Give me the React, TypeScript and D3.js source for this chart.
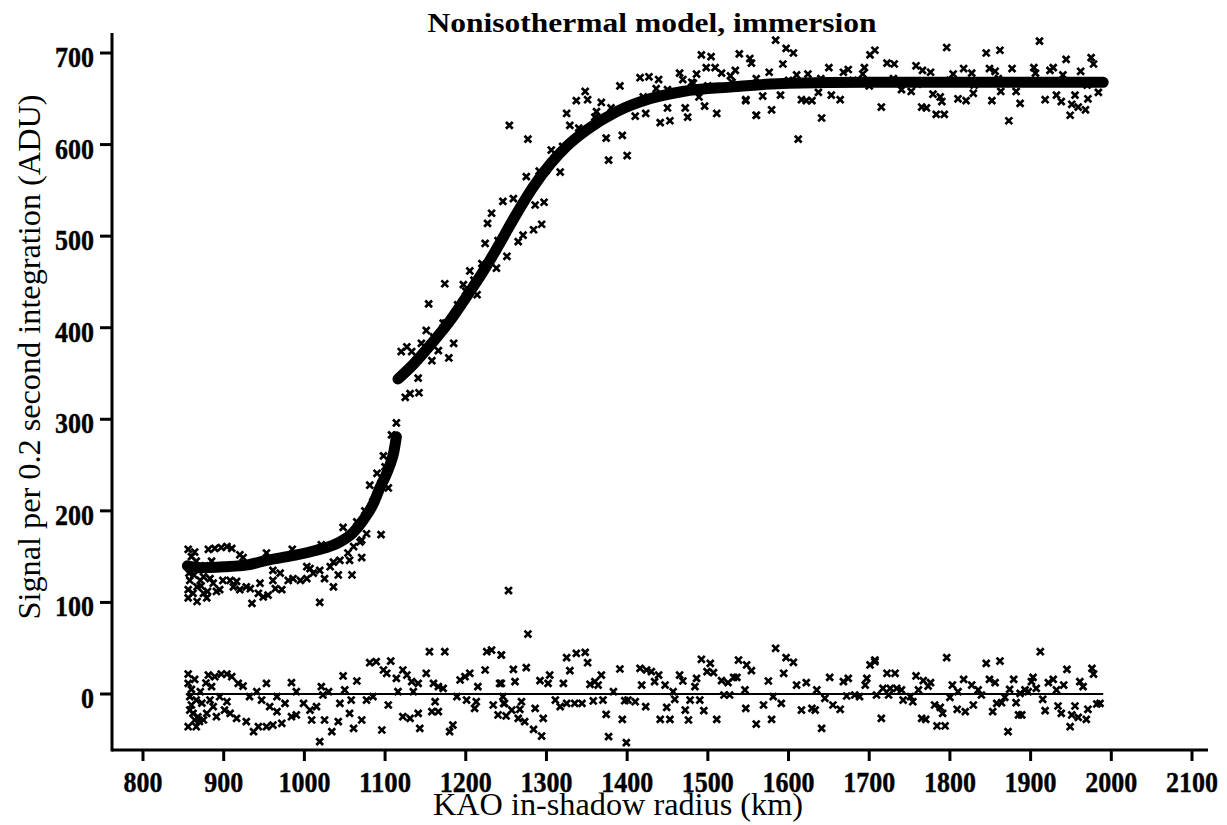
import React from "react";
import * as d3 from "d3";

const W = 1227;
const H = 825;

const title = "Nonisothermal model, immersion";
const xTitle = "KAO in-shadow radius (km)";
const yTitle = "Signal per 0.2 second integration (ADU)";
const xTicks = [800, 900, 1000, 1100, 1200, 1300, 1400, 1500, 1600, 1700, 1800, 1900, 2000, 2100];
const yTicks = [0, 100, 200, 300, 400, 500, 600, 700];

// model curve (two branches)
const modelLower: [number, number][] = [
  [855, 140], [870, 138], [900, 139], [930, 141], [953, 146], [985, 151], [1015, 157], [1044, 166],
  [1060, 176], [1073, 190], [1085, 207], [1094, 226], [1100, 237], [1106, 250], [1111, 265], [1114, 281],
];
const modelUpper: [number, number][] = [
  [1116, 344], [1135, 360], [1156, 381], [1180, 407], [1201, 434], [1222, 462], [1242, 492], [1262, 523],
  [1283, 553], [1305, 579], [1325, 598], [1350, 616], [1387, 636], [1428, 650], [1469, 658], [1531, 663],
  [1600, 667], [1700, 668], [1800, 668], [1900, 668], [1990, 668],
];

// observed signal
const signalLow: [number, number][] = [
  [856, 158], [864, 155], [881, 158], [889, 159], [897, 160], [904, 161], [910, 159], [920, 152], [924, 149],
  [953, 154], [985, 158], [1021, 163], [1048, 182], [1065, 188], [1081, 228], [1095, 174], [1069, 166],
  [1071, 149], [1056, 146], [1044, 146], [1036, 144], [1059, 130], [1042, 130], [1036, 117], [1025, 126],
  [1019, 100], [1011, 132], [1007, 137], [1003, 126], [995, 124], [986, 126], [980, 124], [972, 114],
  [964, 115], [955, 108], [949, 106], [943, 110], [935, 99], [933, 115], [928, 117], [920, 114], [912, 117],
  [908, 124], [895, 114], [891, 112], [887, 121], [883, 126], [875, 128], [871, 124], [867, 117], [862, 110],
  [856, 105], [867, 101], [858, 124], [856, 114], [875, 110], [879, 105], [961, 124], [970, 132], [1003, 139],
  [1019, 135], [1032, 139], [1054, 154], [1061, 161], [1071, 168], [1077, 175], [961, 135], [945, 121],
  [916, 123], [899, 124], [858, 140], [860, 150], [863, 130], [866, 145], [869, 135], [872, 118], [877, 140],
  [880, 112], [885, 145], [857, 132],
];
const signalMid: [number, number][] = [
  [1114, 296], [1108, 283], [1090, 241], [1100, 248], [1104, 225], [1075, 200], [1085, 210], [1095, 230],
  [1098, 260], [1141, 345], [1131, 328], [1125, 324], [1142, 329], [1120, 374], [1127, 379], [1133, 374],
  [1158, 364], [1166, 375], [1179, 367], [1185, 383], [1151, 397], [1154, 426], [1145, 383], [1172, 405],
  [1253, 113],
];
const signalRise: [number, number][] = [
  [1174, 448], [1197, 447], [1205, 462], [1214, 436], [1224, 492], [1227, 514], [1232, 525], [1246, 538],
  [1259, 541], [1251, 478], [1238, 465], [1265, 494], [1271, 501], [1284, 507], [1294, 513], [1286, 534],
  [1297, 537], [1275, 565], [1291, 571], [1306, 594], [1317, 570], [1254, 621], [1277, 606], [1325, 634],
  [1329, 621], [1337, 648], [1348, 658], [1351, 649], [1368, 646], [1362, 636], [1374, 607], [1377, 583],
  [1394, 610], [1400, 588], [1391, 664], [1410, 631], [1423, 634], [1416, 673], [1427, 674], [1439, 671],
  [1436, 661], [1441, 624], [1453, 626], [1450, 640], [1465, 678], [1469, 671], [1472, 640], [1475, 630],
  [1486, 677], [1482, 667], [1489, 652], [1496, 642], [1492, 698], [1504, 696], [1498, 684], [1509, 684],
  [1517, 678], [1528, 675], [1534, 681], [1539, 699], [1552, 694], [1554, 689], [1511, 634], [1547, 648],
  [1560, 632], [1160, 390], [1175, 405], [1190, 425], [1200, 440], [1210, 452], [1220, 470], [1240, 495],
  [1260, 520], [1280, 548], [1300, 572], [1310, 585], [1320, 598], [1340, 618], [1360, 630], [1380, 640],
];
const signalPlateau: [number, number][] = [
  [1547, 649], [1560, 632], [1568, 653], [1579, 638], [1590, 654], [1576, 679], [1584, 714], [1597, 705],
  [1606, 700], [1593, 688], [1612, 606], [1616, 649], [1622, 648], [1629, 648], [1637, 657], [1610, 676],
  [1624, 677], [1641, 629], [1650, 684], [1653, 654], [1664, 649], [1668, 679], [1674, 682], [1701, 698],
  [1707, 703], [1694, 684], [1692, 677], [1715, 641], [1722, 689], [1731, 688], [1740, 660], [1752, 658],
  [1758, 686], [1766, 681], [1776, 679], [1765, 641], [1771, 640], [1779, 655], [1788, 652], [1790, 647],
  [1783, 633], [1793, 633], [1796, 706], [1804, 677], [1810, 650], [1817, 683], [1820, 648], [1827, 678],
  [1829, 656], [1845, 700], [1849, 683], [1856, 680], [1852, 648], [1862, 703], [1863, 658], [1873, 626],
  [1882, 658], [1887, 645], [1877, 683], [1904, 684], [1906, 678], [1911, 713], [1918, 649], [1924, 681],
  [1928, 684], [1932, 654], [1938, 647], [1944, 693], [1940, 676], [1949, 632], [1951, 644], [1955, 654],
  [1959, 641], [1962, 680], [1968, 638], [1971, 650], [1975, 695], [1978, 688], [1984, 657],
  [1420, 652], [1450, 660], [1480, 668], [1500, 664], [1530, 668], [1560, 672], [1580, 665], [1600, 670],
  [1640, 672], [1680, 670], [1700, 664], [1730, 672], [1760, 666], [1800, 670], [1830, 665], [1860, 672],
  [1900, 668], [1940, 670], [1970, 665],
];

// residuals (signal minus model)
const residA: [number, number][] = [
  [856, 21.8], [864, 16], [856, 11.6], [881, 20.7], [889, 18.9], [897, 21.8], [904, 21.8], [910, 18.9],
  [918, 11.6], [924, 8.7], [953, 11.6], [984, 12.4], [1021, 8], [1048, 19.7], [1065, 14.2], [1081, 34.2],
  [1089, 35.3], [1098, 26.2], [1107, 36], [1102, 22.6], [1114, 17.1], [1122, 26.2], [1127, 20.7],
  [1133, 13.5], [1141, 11.6], [1151, 22.6], [1160, 11.6], [1166, 8], [1172, 6.2], [1193, 15.3], [1199, 18.9],
  [1205, 22.6], [1224, 26.2], [1226, 46.2], [1232, 48], [1244, 42.6], [1215, 8], [1242, 11.6], [1155, 46.2],
  [1174, 46.2], [858, -2.9], [860, -12], [862, -21.1], [864, -28.4], [856, -35.7], [866, -35.7], [875, -28.4],
  [879, -21.1], [887, -13.8], [891, -24.8], [901, -17.5], [908, -21.1], [916, -26.6], [928, -30.2],
  [937, -41.1], [943, -35.7], [953, -35.7], [961, -33.9], [972, -32], [947, -6.6], [957, -13.8], [966, -19.3],
  [976, -10.2], [984, -24.8], [990, -22.9], [999, -10.2], [1007, -17.5], [1015, -13.8], [1009, -28.4],
  [1025, -28.4], [1034, -41.1], [1042, -30.2], [1044, -10.2], [1056, -21.1], [1061, -37.5], [1071, -28.4],
  [1077, -6.6], [1085, -2.9], [1096, -39.3], [1104, -12], [1122, -24.8], [1131, -26.6], [1141, -21.1],
  [1143, -37.5], [1158, -19.3], [1166, -19.3], [1162, -8.4], [1180, -41.1], [1184, -33.9], [1201, -6.6],
  [1213, -8.4], [1211, -15.7], [1234, -12], [1240, -22.9], [1248, -10.2], [1019, -52], [1058, -6.6],
  [1023, -1.1], [932, -2.9], [941, 2.5], [966, -2.9], [990, 2.5], [1030, 2.5], [1050, 4.4], [1116, 2.5],
  [1135, 2.5], [1189, -2.9], [1246, -2.9], [904, -8.4], [883, -6.6], [871, 2.5], [866, -6.6], [858, -17.5],
  [860, 5], [868, -25], [873, -10], [885, 8], [895, -3], [870, -30], [878, 12],
];
const residB: [number, number][] = [
  [1244, 42.6], [1277, 65.5], [1259, 26.9], [1261, 13.5], [1275, 28.8], [1244, 11.6], [1247, -10.2],
  [1250, -24], [1257, -17.5], [1265, -26.6], [1273, -30.2], [1267, -16.7], [1269, -8.4], [1284, -38.6],
  [1294, -45.9], [1296, -26.6], [1286, -15.7], [1292, 14.6], [1304, 20.7], [1302, 11.6], [1321, 11.6],
  [1325, 39.7], [1337, 44.4], [1348, 45.5], [1351, 34.2], [1329, 25.5], [1335, -10.2], [1344, -10.2],
  [1358, -7.6], [1354, 10.6], [1364, 9.8], [1368, 20.7], [1360, 13.5], [1311, -6.6], [1317, -13.8],
  [1325, -10.2], [1370, -6.6], [1374, -22.2], [1377, -46.6], [1383, 2.5], [1391, 27.3], [1394, -27.7],
  [1399, -53.1], [1401, -6.6], [1410, -8.4], [1416, 28], [1424, 26.2], [1430, 24.4], [1418, 9.8],
  [1423, -13.8], [1434, 13.5], [1439, 20.7], [1447, 9.8], [1441, -27.7], [1453, -27.7], [1457, 2.5],
  [1449, -14.6], [1459, -5.8], [1465, 20.7], [1469, 14.2], [1472, -17.5], [1476, -28.4], [1478, -6.6],
  [1490, -6.6], [1484, 8], [1486, 17.1], [1492, 37.9], [1503, 33.5], [1499, 24.4], [1507, 23.3],
  [1495, -18.2], [1511, -27.7], [1517, 14.6], [1525, 12.4], [1532, 18.2], [1536, 18.2], [1538, 37.1],
  [1548, 31.7], [1554, 25.5], [1520, -1.1], [1546, 4.4], [1547, -15.7], [1560, -32.8], [1569, -12],
  [1579, -27.7], [1575, 14.2], [1581, -2.9], [1584, 49.9], [1591, -10.2], [1594, 22.6], [1597, 39.7],
  [1606, 34.6], [1610, 9.8], [1616, -17.5], [1622, 12.4], [1629, -15.7], [1633, -17.5], [1635, 4.4],
  [1641, -37.5], [1645, -4.7], [1651, 18.2], [1655, -12], [1664, -16.7], [1668, 13.5], [1674, 17.1],
  [1682, -1.1], [1688, -2.9], [1697, 17.1], [1701, 31.7], [1707, 37.1], [1695, 9.8], [1527, -1.1],
  [1397, -7.3], [1672, -2.2],
];
const residC: [number, number][] = [
  [1707, 35.3], [1722, 22.6], [1732, 22.6], [1717, 6.2], [1726, 6.2], [1734, 6.2], [1740, 4.4], [1709, -1.1],
  [1724, -1.1], [1742, -6.6], [1751, -2.9], [1754, -8.4], [1715, -26.6], [1758, 19.7], [1767, 14.6],
  [1776, 12.4], [1761, 4.4], [1773, 8.7], [1781, -12], [1788, -14.6], [1791, -21.1], [1765, -26.6],
  [1770, -27.7], [1784, -34.9], [1794, -34.9], [1796, 39.7], [1803, 9.8], [1800, -3.6], [1810, 2.5],
  [1809, -16.7], [1819, -19.3], [1817, 16], [1827, 9.8], [1829, -12], [1835, 4.4], [1839, -1.1],
  [1845, 33.5], [1849, 16], [1856, 12.4], [1862, 36], [1853, -19.3], [1858, -10.2], [1864, -9.5],
  [1868, -3.6], [1872, -41.1], [1874, 5.1], [1879, 16], [1882, -9.5], [1885, -22.9], [1889, -22.9],
  [1893, 4.4], [1901, 13.5], [1903, 18.2], [1912, 46.2], [1907, 6.2], [1915, -5.8], [1918, -18.2],
  [1922, 12.4], [1928, 16], [1932, 4.4], [1934, -13.1], [1938, -21.1], [1941, 9.8], [1945, 26.9],
  [1949, -35.7], [1951, -22.9], [1955, -13.1], [1959, -25.5], [1961, 13.5], [1965, 8], [1969, -27.7],
  [1971, -16.7], [1976, 28], [1978, 21.8], [1982, -10.9], [1986, -10.2], [1897, 2.5], [1887, 0.7],
];
const residLineX = [855, 1990];

const FONT = "'Liberation Serif', 'Times New Roman', serif";

export default function App() {
  const x = d3.scaleLinear().domain([800, 2100]).range([143, 1192]);
  const y = d3.scaleLinear().domain([0, 700]).range([694, 53]);
  const left = 112, right = 1208, top = 33, bottom = 750;

  const line = d3
    .line<[number, number]>()
    .x((d) => x(d[0]))
    .y((d) => y(d[1]))
    .curve(d3.curveMonotoneX);

  const signal = [...signalLow, ...signalMid, ...signalRise, ...signalPlateau];
  const resid = [...residA, ...residB, ...residC];
  const cross = "M-3.4,-3.4L3.4,3.4M-3.4,3.4L3.4,-3.4";

  return (
    <svg
      width={W}
      height={H}
      style={{ position: "absolute", left: 0, top: 0, background: "#fff" }}
      fontFamily={FONT}
    >
      <rect width={W} height={H} fill="#fff" />
      {/* axes */}
      <line x1={left} x2={left} y1={top} y2={bottom + 1.5} stroke="#000" strokeWidth={3} />
      <line x1={left} x2={right} y1={bottom} y2={bottom} stroke="#000" strokeWidth={3} />
      {yTicks.map((t) => (
        <g key={"y" + t}>
          <line x1={left - 12} x2={left} y1={y(t)} y2={y(t)} stroke="#000" strokeWidth={3} />
          <text
            x={left - 18}
            y={y(t) + 14}
            textAnchor="end"
            fontSize={30}
            fontWeight="bold"
            stroke="#000"
            strokeWidth={0.4}
            textLength={String(t).length * 13}
            lengthAdjust="spacingAndGlyphs"
          >
            {t}
          </text>
        </g>
      ))}
      {xTicks.map((t) => (
        <g key={"x" + t}>
          <line x1={x(t)} x2={x(t)} y1={bottom} y2={bottom + 11} stroke="#000" strokeWidth={3} />
          <text
            x={x(t)}
            y={792}
            textAnchor="middle"
            fontSize={30}
            fontWeight="bold"
            stroke="#000"
            strokeWidth={0.4}
            textLength={String(t).length * 13}
            lengthAdjust="spacingAndGlyphs"
          >
            {t}
          </text>
        </g>
      ))}
      {/* residual zero line */}
      <line
        x1={x(residLineX[0])}
        x2={x(residLineX[1])}
        y1={y(0)}
        y2={y(0)}
        stroke="#000"
        strokeWidth={1.8}
      />
      {/* data points */}
      <g stroke="#000" strokeWidth={2.7} fill="none">
        {signal.map((d, i) => (
          <path key={"s" + i} d={cross} transform={`translate(${x(d[0])},${y(d[1])})`} />
        ))}
        {resid.map((d, i) => (
          <path key={"r" + i} d={cross} transform={`translate(${x(d[0])},${y(d[1])})`} />
        ))}
      </g>
      {/* model */}
      <path d={line(modelLower) || ""} fill="none" stroke="#000" strokeWidth={11} strokeLinecap="round" />
      <path d={line(modelUpper) || ""} fill="none" stroke="#000" strokeWidth={11} strokeLinecap="round" />
      {/* titles */}
      <text
        x={652}
        y={32}
        textAnchor="middle"
        fontSize={28}
        fontWeight="bold"
        textLength={449}
        lengthAdjust="spacingAndGlyphs"
      >
        {title}
      </text>
      <text
        x={618}
        y={815}
        textAnchor="middle"
        fontSize={31}
        textLength={370}
        lengthAdjust="spacingAndGlyphs"
      >
        {xTitle}
      </text>
      <text
        transform={`translate(40,357) rotate(-90)`}
        textAnchor="middle"
        fontSize={31}
        textLength={525}
        lengthAdjust="spacingAndGlyphs"
      >
        {yTitle}
      </text>
    </svg>
  );
}
